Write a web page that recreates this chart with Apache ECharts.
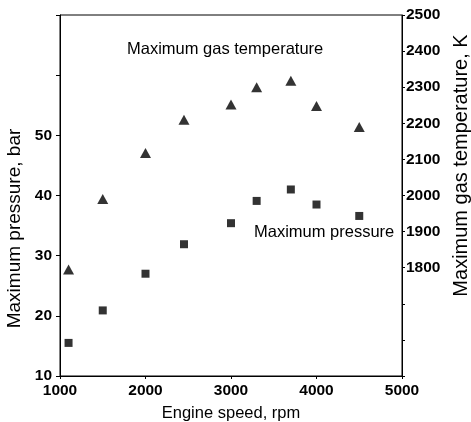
<!DOCTYPE html>
<html>
<head>
<meta charset="utf-8">
<script src="https://cdn.jsdelivr.net/npm/echarts@6/dist/echarts.min.js"></script>
<style>
  html, body { margin: 0; padding: 0; background: #fff; }
  #chart { width: 471px; height: 422px; }
</style>
</head>
<body>
<div id="chart"></div>
<script>
// Engine speed, rpm
const engineSpeed = [1100, 1500, 2000, 2450, 3000, 3300, 3700, 4000, 4500];
// Maximum cylinder pressure, bar (left axis)
const maxPressure = [15.5, 20.9, 27.0, 31.9, 35.4, 39.1, 41.0, 38.5, 36.6];
// Maximum gas temperature, K (right axis)
const maxTemperature = [1795, 1990, 2118, 2210, 2252, 2300, 2318, 2248, 2190];

// Tick labels that carry text; the remaining ticks are drawn bare
const pressureTickLabels = [10, 20, 30, 40, 50];
const temperatureTickLabels = [1800, 1900, 2000, 2100, 2200, 2300, 2400, 2500];

const FONT = '"Liberation Sans", Arial, Helvetica, sans-serif';
const INK = '#000';

const chart = echarts.init(document.getElementById('chart'), null, { renderer: 'canvas' });

const tickLabelStyle = {
  color: INK, fontFamily: FONT, fontSize: 15.5, fontWeight: 'bold'
};

chart.setOption({
  animation: false,
  backgroundColor: '#fff',
  grid: {
    left: 60, right: 69, top: 15, bottom: 46,
    outerBoundsMode: 'none',
    containLabel: false,
    show: true, borderColor: INK, borderWidth: 1, backgroundColor: 'transparent'
  },
  xAxis: {
    type: 'value',
    min: 1000, max: 5000, interval: 1000,
    name: 'Engine speed, rpm',
    nameLocation: 'middle',
    nameGap: 29,
    nameTextStyle: { color: INK, fontFamily: FONT, fontSize: 16.5 },
    axisLine: { show: true, onZero: false, lineStyle: { color: INK, width: 1 } },
    axisTick: { show: true, inside: false, length: 3, lineStyle: { color: INK } },
    axisLabel: Object.assign({ margin: 7, formatter: v => String(v) }, tickLabelStyle),
    splitLine: { show: false }
  },
  yAxis: [
    {
      type: 'value',
      position: 'left',
      min: 10, max: 70, interval: 10,
      name: 'Maximum pressure, bar',
      nameLocation: 'middle',
      nameRotate: 90,
      nameGap: 35,
      // extra space on the text's trailing side pushes the title down the axis
      nameTextStyle: { color: INK, fontFamily: FONT, fontSize: 19, padding: [0, 66, 0, 0] },
      axisLine: { show: true, onZero: false, lineStyle: { color: INK, width: 1 } },
      axisTick: { show: true, inside: false, length: 4, lineStyle: { color: INK } },
      axisLabel: Object.assign({
        margin: 8,
        formatter: v => pressureTickLabels.includes(v) ? String(v) : ''
      }, tickLabelStyle),
      splitLine: { show: false }
    },
    {
      type: 'value',
      position: 'right',
      min: 1500, max: 2500, interval: 100,
      name: 'Maximum gas temperature, K',
      nameLocation: 'middle',
      nameRotate: 90,
      nameGap: 41,
      // extra space on the text's leading side lifts the title up the axis
      nameTextStyle: { color: INK, fontFamily: FONT, fontSize: 20, padding: [0, 0, 0, 60] },
      axisLine: { show: true, onZero: false, lineStyle: { color: INK, width: 1 } },
      axisTick: { show: true, inside: false, length: 3, lineStyle: { color: INK } },
      axisLabel: Object.assign({
        margin: 4,
        formatter: v => temperatureTickLabels.includes(v) ? String(v) : ''
      }, tickLabelStyle),
      splitLine: { show: false }
    }
  ],
  series: [
    {
      name: 'Maximum pressure',
      type: 'scatter',
      yAxisIndex: 0,
      symbol: 'rect',
      symbolSize: 8,
      itemStyle: { color: INK },
      data: engineSpeed.map((s, i) => [s, maxPressure[i]])
    },
    {
      name: 'Maximum gas temperature',
      type: 'scatter',
      yAxisIndex: 1,
      symbol: 'triangle',
      symbolSize: [11, 10],
      itemStyle: { color: INK },
      data: engineSpeed.map((s, i) => [s, maxTemperature[i]])
    }
  ],
  graphic: [
    {
      type: 'text',
      left: 127, top: 41,
      style: { text: 'Maximum gas temperature', fill: INK, font: '16.5px ' + FONT }
    },
    {
      type: 'text',
      left: 254, top: 224,
      style: { text: 'Maximum pressure', fill: INK, font: '16.5px ' + FONT }
    }
  ]
});
</script>
</body>
</html>
